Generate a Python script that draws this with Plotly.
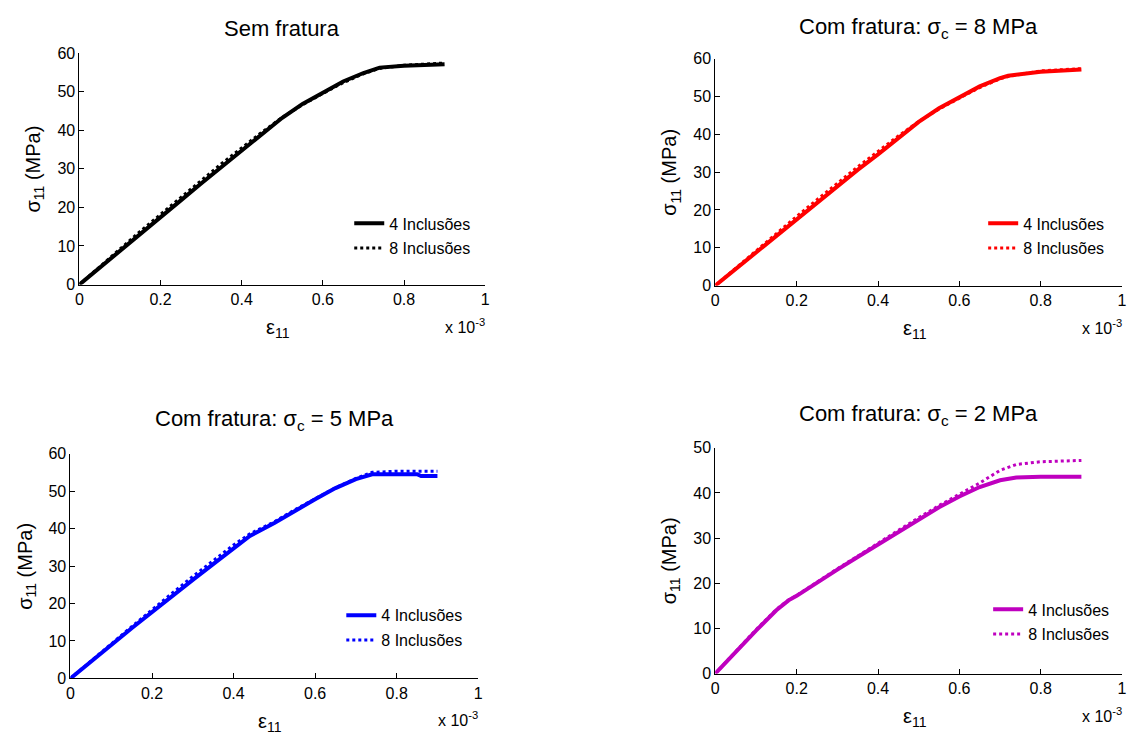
import plotly.graph_objects as go

# ---------------- data (strain in units of 1e-3, stress in MPa) ----------------
x_sem = [0, 0.05, 0.1, 0.15, 0.2, 0.25, 0.3, 0.35, 0.4, 0.45, 0.5, 0.55, 0.6, 0.65, 0.7, 0.74, 0.8, 0.85, 0.9]
y_sem_4 = [0, 4.3, 8.8, 13.2, 17.5, 21.8, 26.2, 30.5, 34.6, 39.0, 43.2, 46.8, 49.8, 52.6, 54.8, 56.2, 56.7, 56.9, 57.1]
y_sem_8 = [0, 4.5, 9.2, 13.8, 18.2, 22.6, 27.0, 31.3, 35.4, 39.5, 43.3, 46.6, 49.5, 52.3, 54.6, 56.0, 56.8, 57.1, 57.4]

x_c8 = [0, 0.05, 0.1, 0.15, 0.2, 0.25, 0.3, 0.35, 0.4, 0.45, 0.5, 0.55, 0.6, 0.65, 0.7, 0.72, 0.8, 0.85, 0.9]
y_c8_4 = [0, 4.4, 8.9, 13.3, 17.6, 21.9, 26.3, 30.6, 34.7, 39.1, 43.3, 46.9, 49.8, 52.7, 54.9, 55.5, 56.6, 56.9, 57.2]
y_c8_8 = [0, 4.6, 9.3, 13.9, 18.3, 22.7, 27.1, 31.4, 35.5, 39.6, 43.4, 46.7, 49.6, 52.4, 54.7, 55.3, 56.8, 57.1, 57.4]

x_c5 = [0, 0.05, 0.1, 0.15, 0.2, 0.25, 0.3, 0.35, 0.4, 0.44, 0.5, 0.55, 0.6, 0.65, 0.7, 0.74, 0.8, 0.85, 0.86, 0.9]
y_c5_4 = [0, 4.3, 8.9, 13.4, 17.8, 22.0, 26.3, 30.5, 34.6, 38.0, 41.5, 44.8, 47.8, 50.8, 53.2, 54.5, 54.5, 54.5, 54.0, 54.0]
y_c5_8 = [0, 4.5, 9.2, 13.8, 18.4, 22.8, 27.2, 31.5, 35.6, 38.6, 41.8, 45.0, 48.0, 50.9, 53.4, 55.0, 55.3, 55.3, 55.3, 55.3]

x_c2 = [0, 0.05, 0.1, 0.15, 0.18, 0.2, 0.25, 0.3, 0.35, 0.4, 0.45, 0.5, 0.55, 0.6, 0.65, 0.7, 0.74, 0.8, 0.9]
y_c2_4 = [0, 4.8, 9.5, 14.0, 16.2, 17.2, 20.2, 23.0, 25.8, 28.6, 31.4, 34.1, 36.8, 39.2, 41.3, 42.8, 43.4, 43.6, 43.6]
y_c2_8 = [0, 4.9, 9.7, 14.2, 16.3, 17.3, 20.3, 23.2, 26.0, 28.9, 31.7, 34.5, 37.2, 39.7, 42.2, 45.0, 46.3, 46.9, 47.2]

series_names = ["4 Inclusões", "8 Inclusões"]
titles = ["Sem fratura",
          "Com fratura: σ<sub>c</sub> = 8 MPa",
          "Com fratura: σ<sub>c</sub> = 5 MPa",
          "Com fratura: σ<sub>c</sub> = 2 MPa"]
x_ticks = [0, 0.2, 0.4, 0.6, 0.8, 1]
x_ticktext = ["0", "0.2", "0.4", "0.6", "0.8", "1"]
y_ticks_60 = [0, 10, 20, 30, 40, 50, 60]
y_ticks_50 = [0, 10, 20, 30, 40, 50]

# ---------------- layout geometry ----------------
W, H = 1136, 747
FONT = "Liberation Sans, Arial, sans-serif"

def px_x(p):
    return p / W

def px_y(p):
    return 1 - p / H

# plot areas in pixels: (left, right, top, bottom)
areas = [(76, 485, 46, 283), (717, 1127, 52, 284), (67, 478, 456, 686), (717, 1127, 450, 681)]
colors = ["#000000", "#FF0000", "#0000FF", "#BF00BF"]
datasets = [(x_sem, y_sem_4, y_sem_8), (x_c8, y_c8_4, y_c8_8), (x_c5, y_c5_4, y_c5_8), (x_c2, y_c2_4, y_c2_8)]
y_ranges = [[0, 60], [0, 60], [0, 60], [0, 50]]
y_tickss = [y_ticks_60, y_ticks_60, y_ticks_60, y_ticks_50]
title_y = [21, 20, 422, 416]
legend_pos = [(348, 203), (987, 203), (340, 604), (992, 598)]

fig = go.Figure()
layout = dict(width=W, height=H, margin=dict(l=0, r=0, t=0, b=0),
              paper_bgcolor="white", plot_bgcolor="white",
              font=dict(family=FONT, color="black"), annotations=[])

for i in range(4):
    sfx = "" if i == 0 else str(i + 1)
    xa, ya = "x" + sfx, "y" + sfx
    lg = "legend" + sfx
    xs, y4, y8 = datasets[i]
    fig.add_trace(go.Scatter(x=xs, y=y4, mode="lines", name=series_names[0],
                             line=dict(color=colors[i], width=4),
                             xaxis=xa, yaxis=ya, legend=lg, legendgroup=f"a{i}"))
    fig.add_trace(go.Scatter(x=xs, y=y8, mode="lines", name=series_names[1],
                             line=dict(color=colors[i], width=3, dash="dot"),
                             xaxis=xa, yaxis=ya, legend=lg, legendgroup=f"b{i}"))
    l, r, t, b = areas[i]
    layout["xaxis" + sfx] = dict(domain=[px_x(l), px_x(r)], anchor=ya, range=[0, 1],
                                 tickvals=x_ticks, ticktext=x_ticktext,
                                 showline=True, linecolor="black", linewidth=1,
                                 ticks="inside", ticklen=5, tickcolor="black",
                                 showgrid=False, zeroline=False,
                                 tickfont=dict(size=16, family=FONT, color="black"))
    layout["yaxis" + sfx] = dict(domain=[px_y(b), px_y(t)], anchor=xa, range=y_ranges[i],
                                 tickvals=y_tickss[i],
                                 showline=True, linecolor="black", linewidth=1,
                                 ticks="inside", ticklen=5, tickcolor="black",
                                 showgrid=False, zeroline=False,
                                 tickfont=dict(size=16, family=FONT, color="black"))
    lx, ly = legend_pos[i]
    layout[lg] = dict(x=px_x(lx), y=px_y(ly), xanchor="left", yanchor="top",
                      bgcolor="rgba(0,0,0,0)", borderwidth=0, tracegroupgap=1,
                      font=dict(size=16, family=FONT, color="black"))
    cx = (l + r) / 2
    layout["annotations"].append(dict(text=titles[i], x=px_x(cx), y=px_y(title_y[i]),
                                      xref="paper", yref="paper", showarrow=False,
                                      xanchor="center", yanchor="middle",
                                      font=dict(size=22, family=FONT, color="black")))
    # y label
    layout["annotations"].append(dict(text="σ<sub>11</sub> (MPa)", x=px_x(l - 45), y=px_y((t + b) / 2),
                                      xref="paper", yref="paper", showarrow=False, textangle=-90,
                                      xanchor="center", yanchor="middle",
                                      font=dict(size=20, family=FONT, color="black")))
    # x label
    layout["annotations"].append(dict(text="ε<sub>11</sub>", x=px_x(l + 0.49 * (r - l)), y=px_y(b + 45),
                                      xref="paper", yref="paper", showarrow=False,
                                      xanchor="center", yanchor="middle",
                                      font=dict(size=20, family=FONT, color="black")))
    # exponent
    layout["annotations"].append(dict(text="x 10<sup>-3</sup>", x=px_x(r + 2), y=px_y(b + 42),
                                      xref="paper", yref="paper", showarrow=False,
                                      xanchor="right", yanchor="middle",
                                      font=dict(size=16, family=FONT, color="black")))

fig.update_layout(**layout)
fig.write_html("out.html")
